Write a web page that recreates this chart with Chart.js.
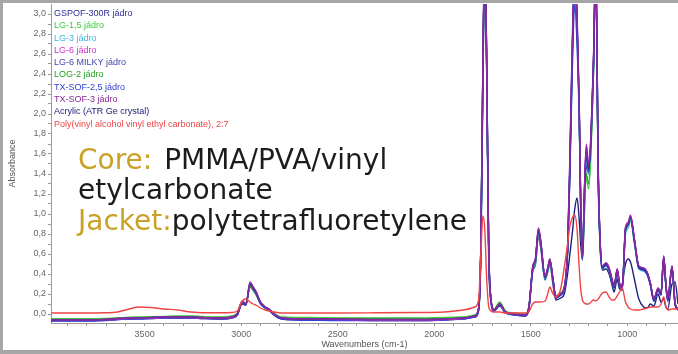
<!DOCTYPE html>
<html>
<head>
<meta charset="utf-8">
<script src="https://cdn.jsdelivr.net/npm/chart.js@4"></script>
<style>
  body { margin: 0; background: #fff; }
  canvas { display: block; }
</style>
</head>
<body>
<canvas id="ir_chart" width="678" height="354"></canvas>
<script>
// wavenumber grid (cm-1), shared by all spectra
const wavenumbers = [
  3985, 3850, 3700, 3640, 3580, 3530, 3470, 3400, 3330, 3260, 3200, 3100, 3050,
  3020, 2995, 2975, 2954, 2938, 2924, 2900, 2875, 2856, 2830, 2790, 2650, 2500, 2300, 2100, 1950, 1850,
  1790, 1770, 1758, 1748, 1738, 1728, 1718, 1706, 1690, 1661, 1630, 1580, 1530, 1510,
  1490, 1475, 1460, 1448, 1426, 1412, 1401, 1385, 1370, 1345,
  1326, 1309, 1297, 1285, 1272, 1260, 1249, 1241, 1232, 1222,
  1212, 1200, 1188, 1175, 1163, 1150, 1140, 1129, 1110, 1094,
  1080, 1068, 1052, 1040, 1026, 1009, 995, 983, 963, 940,
  915, 897, 880, 862, 840, 825, 811, 800, 790, 768,
  752, 737
];

const gspof = [
  -0.06, -0.06, -0.055, -0.045, -0.04, -0.04, -0.035, -0.03, -0.03, -0.03, -0.035, -0.04, -0.03,
  0.0, 0.12, 0.1, 0.3, 0.26, 0.22, 0.12, 0.07, 0.05, 0.0, -0.04, -0.05, -0.05, -0.055, -0.055, -0.05, -0.04,
  -0.02, 0.05, 0.7, 2.4, 3.6, 2.5, 0.7, 0.15, 0.04, 0.1, 0.02, 0.0, -0.01, 0.06,
  0.46, 0.55, 0.84, 0.72, 0.37, 0.45, 0.54, 0.35, 0.17, 0.2,
  0.26, 0.64, 1.5, 2.6, 3.4, 2.95, 2.1, 1.1, 0.57, 1.2,
  1.65, 1.45, 1.75, 2.5, 3.5, 1.4, 0.7, 0.47, 0.5, 0.45,
  0.35, 0.27, 0.44, 0.3, 0.25, 0.85, 0.9, 0.97, 0.74, 0.47,
  0.45, 0.41, 0.3, 0.14, 0.25, 0.2, 0.57, 0.3, 0.14, 0.47,
  0.1, 0.05
];
const lg15 = [
  -0.05, -0.05, -0.05, -0.04, -0.035, -0.03, -0.03, -0.025, -0.02, -0.02, -0.025, -0.03, -0.02,
  0.01, 0.13, 0.11, 0.28, 0.25, 0.21, 0.12, 0.07, 0.05, 0.01, -0.03, -0.035, -0.04, -0.04, -0.04, -0.035, -0.03,
  -0.01, 0.06, 0.72, 2.45, 3.6, 2.55, 0.72, 0.16, 0.05, 0.12, 0.03, 0.01, 0.0, 0.07,
  0.44, 0.52, 0.8, 0.7, 0.36, 0.43, 0.52, 0.34, 0.18, 0.21,
  0.27, 0.62, 1.45, 2.55, 3.4, 2.9, 2.05, 1.05, 0.55, 1.1,
  1.35, 1.25, 1.6, 2.4, 3.5, 1.35, 0.68, 0.46, 0.49, 0.44,
  0.34, 0.27, 0.42, 0.3, 0.25, 0.82, 0.88, 0.95, 0.72, 0.46,
  0.44, 0.4, 0.3, 0.15, 0.24, 0.2, 0.55, 0.3, 0.15, 0.45,
  0.1, 0.05
];
const lg3 = [
  -0.055, -0.055, -0.05, -0.045, -0.04, -0.04, -0.035, -0.035, -0.03, -0.03, -0.035, -0.04, -0.03,
  0.0, 0.11, 0.1, 0.28, 0.24, 0.2, 0.11, 0.06, 0.04, 0.0, -0.04, -0.045, -0.05, -0.05, -0.05, -0.045, -0.04,
  -0.02, 0.04, 0.65, 2.3, 3.5, 2.4, 0.65, 0.14, 0.04, 0.09, 0.02, 0.0, -0.01, 0.05,
  0.43, 0.52, 0.8, 0.68, 0.35, 0.42, 0.5, 0.33, 0.16, 0.19,
  0.25, 0.6, 1.45, 2.5, 3.3, 2.85, 2.0, 1.05, 0.55, 1.15,
  1.55, 1.4, 1.7, 2.45, 3.45, 1.35, 0.68, 0.45, 0.48, 0.43,
  0.33, 0.26, 0.42, 0.29, 0.24, 0.8, 0.86, 0.93, 0.7, 0.45,
  0.43, 0.39, 0.29, 0.13, 0.24, 0.19, 0.54, 0.28, 0.13, 0.45,
  0.1, 0.05
];
const lg6 = [
  -0.06, -0.06, -0.055, -0.05, -0.045, -0.04, -0.04, -0.035, -0.035, -0.035, -0.04, -0.045, -0.035,
  0.0, 0.12, 0.11, 0.31, 0.27, 0.23, 0.12, 0.07, 0.05, 0.0, -0.04, -0.05, -0.055, -0.06, -0.06, -0.055, -0.045,
  -0.02, 0.05, 0.72, 2.45, 3.7, 2.55, 0.72, 0.15, 0.04, 0.1, 0.02, 0.0, -0.01, 0.06,
  0.47, 0.56, 0.85, 0.73, 0.38, 0.46, 0.55, 0.36, 0.18, 0.2,
  0.27, 0.66, 1.6, 2.7, 3.5, 3.0, 2.15, 1.15, 0.58, 1.25,
  1.7, 1.5, 1.8, 2.55, 3.6, 1.45, 0.72, 0.48, 0.51, 0.46,
  0.36, 0.28, 0.45, 0.31, 0.26, 0.87, 0.92, 0.99, 0.76, 0.48,
  0.46, 0.42, 0.31, 0.15, 0.26, 0.21, 0.58, 0.31, 0.15, 0.48,
  0.11, 0.05
];
const lg6milky = [
  -0.065, -0.065, -0.06, -0.05, -0.045, -0.045, -0.04, -0.035, -0.035, -0.035, -0.04, -0.045, -0.035,
  -0.005, 0.11, 0.1, 0.29, 0.25, 0.21, 0.11, 0.06, 0.045, -0.005, -0.045, -0.055, -0.055, -0.06, -0.06, -0.055, -0.045,
  -0.025, 0.045, 0.68, 2.35, 3.55, 2.45, 0.68, 0.14, 0.035, 0.09, 0.015, -0.005, -0.015, 0.05,
  0.45, 0.54, 0.82, 0.71, 0.36, 0.44, 0.53, 0.34, 0.16, 0.19,
  0.25, 0.63, 1.48, 2.58, 3.35, 2.9, 2.08, 1.08, 0.56, 1.18,
  1.6, 1.42, 1.72, 2.48, 3.45, 1.38, 0.69, 0.46, 0.49, 0.44,
  0.34, 0.26, 0.43, 0.29, 0.24, 0.84, 0.89, 0.96, 0.73, 0.46,
  0.44, 0.4, 0.29, 0.13, 0.24, 0.19, 0.56, 0.29, 0.13, 0.46,
  0.09, 0.04
];
const log2 = [
  -0.05, -0.05, -0.045, -0.04, -0.035, -0.035, -0.03, -0.03, -0.025, -0.025, -0.03, -0.035, -0.025,
  0.005, 0.12, 0.1, 0.27, 0.24, 0.2, 0.11, 0.06, 0.045, 0.005, -0.035, -0.04, -0.045, -0.045, -0.045, -0.04, -0.035,
  -0.015, 0.055, 0.7, 2.4, 3.55, 2.5, 0.7, 0.15, 0.045, 0.11, 0.025, 0.005, -0.005, 0.065,
  0.45, 0.53, 0.82, 0.7, 0.36, 0.44, 0.53, 0.35, 0.18, 0.21,
  0.27, 0.63, 1.48, 2.58, 3.4, 2.9, 2.08, 1.08, 0.56, 1.12,
  1.4, 1.3, 1.65, 2.45, 3.5, 1.38, 0.7, 0.47, 0.5, 0.45,
  0.35, 0.27, 0.43, 0.3, 0.25, 0.83, 0.89, 0.96, 0.73, 0.47,
  0.45, 0.41, 0.3, 0.15, 0.25, 0.2, 0.56, 0.3, 0.15, 0.46,
  0.1, 0.05
];
const txsof25 = [
  -0.07, -0.07, -0.065, -0.055, -0.05, -0.05, -0.045, -0.04, -0.04, -0.04, -0.045, -0.05, -0.04,
  -0.01, 0.11, 0.09, 0.31, 0.26, 0.22, 0.11, 0.06, 0.04, -0.01, -0.05, -0.06, -0.065, -0.065, -0.065, -0.06, -0.05,
  -0.03, 0.04, 0.7, 2.4, 3.6, 2.5, 0.7, 0.14, 0.03, 0.09, 0.01, -0.01, -0.02, 0.05,
  0.46, 0.55, 0.85, 0.72, 0.37, 0.45, 0.54, 0.35, 0.16, 0.19,
  0.25, 0.62, 1.4, 2.4, 3.1, 2.7, 2.0, 1.05, 0.55, 1.2,
  1.65, 1.45, 1.75, 2.5, 3.5, 1.4, 0.7, 0.46, 0.49, 0.44,
  0.34, 0.26, 0.44, 0.29, 0.24, 0.85, 0.9, 0.97, 0.74, 0.46,
  0.44, 0.4, 0.29, 0.13, 0.24, 0.19, 0.57, 0.29, 0.13, 0.47,
  0.09, 0.04
];
const txsof3 = [
  -0.06, -0.06, -0.055, -0.045, -0.04, -0.04, -0.035, -0.03, -0.03, -0.03, -0.035, -0.04, -0.03,
  0.0, 0.12, 0.1, 0.32, 0.27, 0.23, 0.12, 0.07, 0.05, 0.0, -0.04, -0.05, -0.05, -0.055, -0.055, -0.05, -0.04,
  -0.02, 0.05, 0.72, 2.45, 3.65, 2.5, 0.7, 0.15, 0.04, 0.1, 0.02, 0.0, -0.01, 0.06,
  0.47, 0.56, 0.86, 0.73, 0.38, 0.46, 0.55, 0.36, 0.17, 0.2,
  0.26, 0.65, 1.55, 2.65, 3.45, 3.0, 2.12, 1.12, 0.58, 1.22,
  1.68, 1.48, 1.78, 2.52, 3.55, 1.42, 0.71, 0.48, 0.51, 0.46,
  0.36, 0.28, 0.45, 0.31, 0.26, 0.86, 0.91, 0.98, 0.75, 0.48,
  0.46, 0.42, 0.31, 0.15, 0.26, 0.21, 0.58, 0.31, 0.15, 0.48,
  0.11, 0.05
];
const acrylic = [
  -0.065, -0.065, -0.06, -0.055, -0.05, -0.045, -0.045, -0.04, -0.04, -0.04, -0.045, -0.05, -0.04,
  -0.01, 0.1, 0.09, 0.28, 0.24, 0.2, 0.1, 0.06, 0.04, -0.01, -0.05, -0.06, -0.06, -0.065, -0.065, -0.06, -0.05,
  -0.03, 0.03, 0.6, 2.2, 3.5, 2.4, 0.6, 0.12, 0.03, 0.08, 0.01, -0.01, -0.02, 0.04,
  0.42, 0.5, 0.78, 0.66, 0.34, 0.42, 0.5, 0.3, 0.14, 0.16,
  0.2, 0.4, 0.6, 0.8, 1.05, 1.16, 0.95, 0.7, 0.54, 1.0,
  1.5, 1.4, 1.7, 2.4, 3.4, 1.3, 0.65, 0.44, 0.45, 0.4,
  0.3, 0.22, 0.35, 0.25, 0.3, 0.5, 0.55, 0.52, 0.35, 0.15,
  0.07, 0.06, 0.1, 0.08, 0.2, 0.12, 0.15, 0.07, 0.05, 0.3,
  0.32, 0.1
];
const pva_vec = [
  0.01, 0.01, 0.012, 0.02, 0.05, 0.07, 0.065, 0.05, 0.04, 0.02, 0.012, 0.012, 0.015,
  0.03, 0.13, 0.15, 0.12, 0.1, 0.09, 0.06, 0.04, 0.03, 0.02, 0.01, 0.01, 0.01, 0.012, 0.015, 0.02, 0.04,
  0.07, 0.14, 0.6, 0.98, 0.85, 0.35, 0.08, 0.03, 0.02, 0.02, 0.01, 0.01, 0.01, 0.02,
  0.1, 0.12, 0.12, 0.12, 0.13, 0.2, 0.27, 0.2, 0.17, 0.25,
  0.47, 0.7, 0.88, 0.96, 0.99, 0.85, 0.47, 0.25, 0.14, 0.11,
  0.1, 0.1, 0.12, 0.14, 0.13, 0.15, 0.18, 0.21, 0.22, 0.17,
  0.14, 0.14, 0.18, 0.22, 0.26, 0.12, 0.07, 0.05, 0.04, 0.04,
  0.05, 0.06, 0.07, 0.07, 0.07, 0.1, 0.17, 0.08, 0.04, 0.05,
  0.05, 0.05
];

const sample_names = [
  "GSPOF-300R jádro", "LG-1,5 jádro", "LG-3 jádro", "LG-6 jádro", "LG-6 MILKY jádro",
  "LOG-2 jádro", "TX-SOF-2,5 jádro", "TX-SOF-3 jádro", "Acrylic (ATR Ge crystal)",
  "Poly(vinyl alcohol vinyl ethyl carbonate), 2:7"
];
const sample_values = [gspof, lg15, lg3, lg6, lg6milky, log2, txsof25, txsof3, acrylic, pva_vec];
const sample_colors = [
  "#2c2c96", "#3ccc3c", "#3fb6e6", "#cc34cc", "#4646ae",
  "#23a023", "#3040d8", "#8a2a9e", "#20207a", "#f04444"
];
// drawing order (lower = drawn on top)
const sample_order = [2, 6, 8, 3, 5, 7, 4, 1, 9, 0];

const x_major = [3500, 3000, 2500, 2000, 1500, 1000];
const y_major = [0, 0.2, 0.4, 0.6, 0.8, 1.0, 1.2, 1.4, 1.6, 1.8, 2.0, 2.2, 2.4, 2.6, 2.8, 3.0];

let x_ticks = [];
for (let w = 3900; w >= 800; w -= 100) x_ticks.push({ value: w });
let y_ticks = [];
for (let i = 0; i <= 30; i++) y_ticks.push({ value: i / 10 });

const datasets = sample_names.map((name, k) => ({
  label: name,
  data: wavenumbers.map((w, i) => ({ x: w, y: sample_values[k][i] })),
  borderColor: sample_colors[k],
  borderWidth: 1.4,
  pointRadius: 0,
  cubicInterpolationMode: "monotone",
  order: sample_order[k],
}));

// legend drawn as coloured text inside the plot, top-left
const inner_legend = {
  id: "inner_legend",
  afterDatasetsDraw(chart) {
    const ctx = chart.ctx;
    ctx.save();
    ctx.font = "9px 'Liberation Sans', Arial, sans-serif";
    ctx.textBaseline = "middle";
    ctx.textAlign = "left";
    chart.data.datasets.forEach((ds, i) => {
      ctx.fillStyle = ds.borderColor;
      ctx.fillText(ds.label, 54, 13.5 + i * 12.3);
    });
    ctx.restore();
  },
};

const caption = {
  id: "caption",
  afterDatasetsDraw(chart) {
    const ctx = chart.ctx;
    ctx.save();
    ctx.font = "28px 'DejaVu Sans', Verdana, sans-serif";
    ctx.textBaseline = "alphabetic";
    const gold = "#c9a227";
    const dark = "#1c1c1c";
    let x = 78;
    ctx.fillStyle = gold;
    ctx.fillText("Core: ", x, 169);
    x += ctx.measureText("Core: ").width + 3;
    ctx.fillStyle = dark;
    ctx.fillText("PMMA/PVA/vinyl", x, 169);
    ctx.fillText("etylcarbonate", 78, 199);
    ctx.fillStyle = gold;
    ctx.fillText("Jacket:", 78, 230);
    x = 78 + ctx.measureText("Jacket:").width;
    ctx.fillStyle = dark;
    ctx.fillText("polytetrafluoretylene", x, 230);
    ctx.restore();
  },
};

const frame = {
  id: "frame",
  afterDraw(chart) {
    const ctx = chart.ctx;
    ctx.save();
    ctx.fillStyle = "#a6a6a6";
    ctx.fillRect(0, 0, 678, 3);
    ctx.fillRect(0, 0, 3, 354);
    ctx.fillRect(0, 350, 678, 4);
    ctx.restore();
  },
};

const ir_ctx = document.getElementById("ir_chart");
const ir_chart = new Chart(ir_ctx, {
  type: "line",
  data: { datasets: datasets },
  options: {
    responsive: false,
    animation: false,
    devicePixelRatio: 1,
    layout: { padding: { left: 0, right: 0, top: 4, bottom: 4 } },
    plugins: {
      legend: { display: false },
      tooltip: { enabled: false },
    },
    scales: {
      x: {
        type: "linear",
        reverse: true,
        min: 737,
        max: 3985,
        afterBuildTicks: (s) => { s.ticks = x_ticks.slice(); },
        afterFit: (s) => { s.height = 27; s.paddingLeft = 0; s.paddingRight = 0; },
        ticks: {
          autoSkip: false,
          maxRotation: 0,
          padding: 3,
          color: "#666",
          font: { size: 9, family: "'Liberation Sans', Arial, sans-serif" },
          callback: (v) => (x_major.includes(v) ? String(v) : ""),
        },
        grid: { drawOnChartArea: false, tickLength: 3, color: "#999" },
        border: { color: "#999" },
        title: {
          display: true,
          text: "Wavenumbers (cm-1)",
          color: "#555",
          padding: 0,
          font: { size: 9, family: "'Liberation Sans', Arial, sans-serif" },
        },
      },
      y: {
        min: -0.09,
        max: 3.1,
        afterBuildTicks: (s) => { s.ticks = y_ticks.slice(); },
        afterFit: (s) => { s.width = 51; s.paddingTop = 0; s.paddingBottom = 0; },
        ticks: {
          autoSkip: false,
          padding: 2,
          color: "#666",
          font: { size: 9, family: "'Liberation Sans', Arial, sans-serif" },
          callback: (v) => {
            const m = y_major.find((t) => Math.abs(t - v) < 1e-6);
            return m === undefined ? "" : m.toFixed(1).replace(".", ",");
          },
        },
        grid: { drawOnChartArea: false, tickLength: 3, color: "#999" },
        border: { color: "#999", dash: [1, 1] },
        title: {
          display: true,
          text: "Absorbance",
          color: "#555",
          padding: { top: 7, bottom: 0 },
          font: { size: 9, family: "'Liberation Sans', Arial, sans-serif" },
        },
      },
    },
  },
  plugins: [inner_legend, caption, frame],
});
</script>
</body>
</html>
